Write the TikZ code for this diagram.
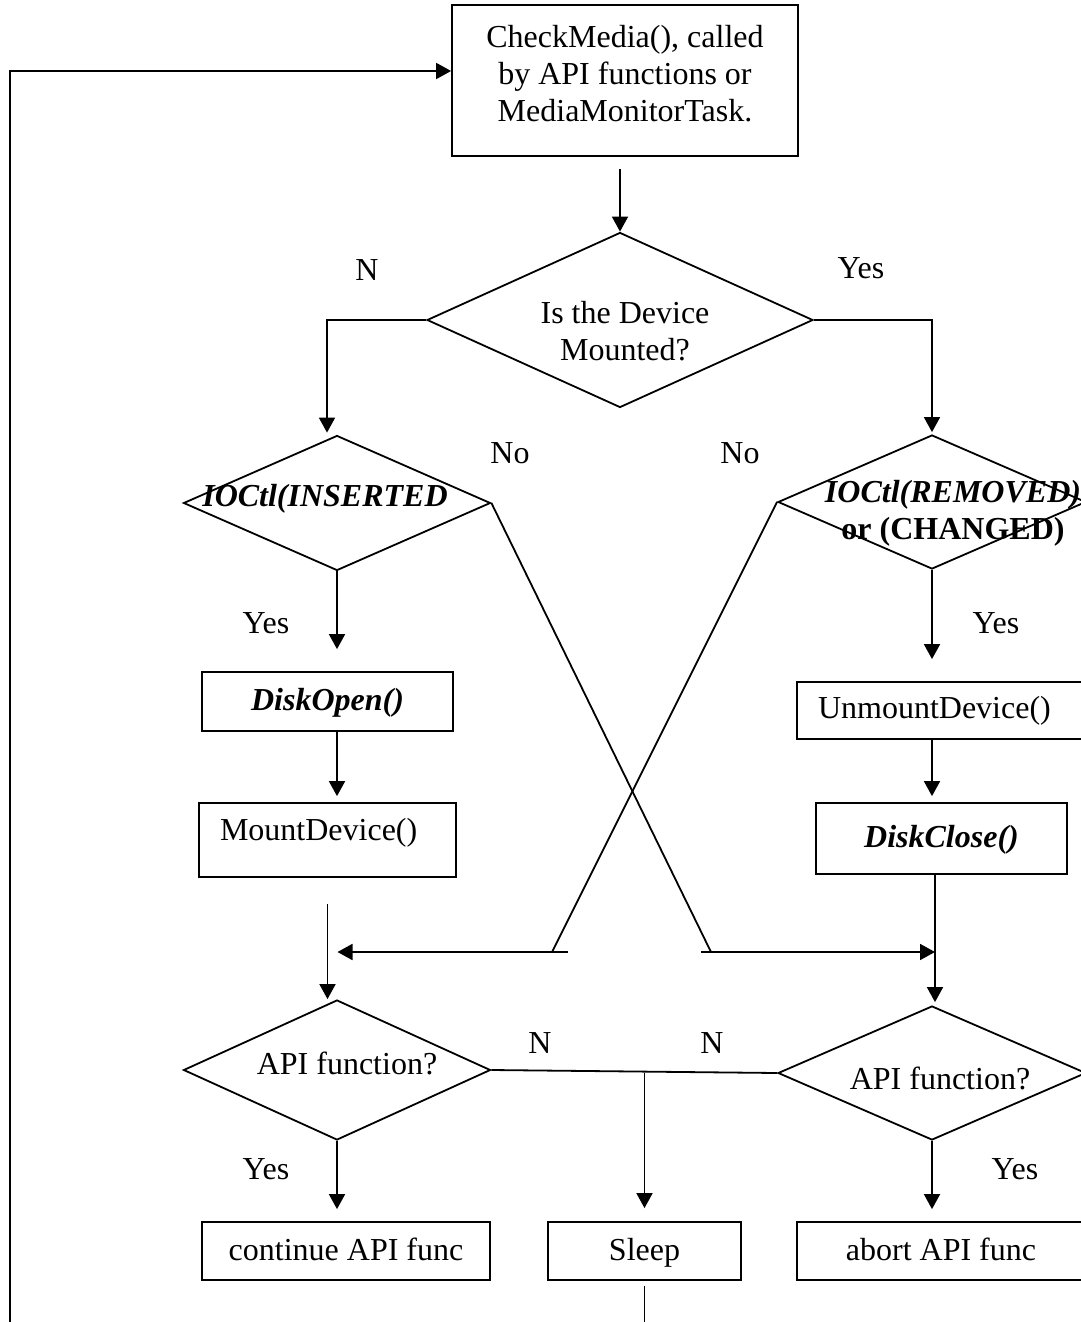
\documentclass[tikz,border=0pt]{standalone}
\usepackage{fontspec}
\setmainfont{Liberation Serif}
\usetikzlibrary{shapes.geometric,arrows.meta}
\begin{document}
\begin{tikzpicture}[x=1pt,y=-1pt,line width=1.8pt,
  every node/.style={font=\fontsize{32}{37}\selectfont},
  bi/.style={font=\fontsize{32}{37}\selectfont\bfseries\itshape},
  box/.style={draw,rectangle,inner sep=0pt,text height=23pt,text depth=5pt},
  dia/.style={draw,diamond,inner sep=0pt},
  txt/.style={align=center,inner sep=0pt},
  arr/.style={-{Triangle[length=15pt,width=16pt]}}]
\useasboundingbox (0,0) rectangle (1080,1322);
% boxes
\node[draw,rectangle,inner sep=0pt,minimum width=346pt,minimum height=151pt] (top) at (625,80.5) {};
\node[txt] (topt) at (625,74) {CheckMedia(), called\\by API functions or\\MediaMonitorTask.};
\node[dia,minimum width=386pt,minimum height=175pt] (d1) at (620,320) {};
\node[txt] (d1t) at (625,331) {Is the Device\\Mounted?};
\node[dia,minimum width=307pt,minimum height=135pt] (ioc1) at (337,503) {};
\node[txt,bi] (ioc1t) at (325,499) {IOCtl(INSERTED};
\node[dia,minimum width=308pt,minimum height=134pt] (ioc2) at (932,502) {};
\node[txt] (ioc2t) at (953,513) {\textbf{\textit{IOCtl(REMOVED)}}\\\textbf{or (CHANGED)}};
\node[box,bi,minimum width=251pt,minimum height=59pt] (open) at (327.5,701.5) {DiskOpen()};
\node[box,text width=215pt,inner xsep=21pt,align=left,minimum height=74pt,text depth=22pt] (mount) at (327.5,840) {MountDevice()};
\node[box,text width=246pt,inner xsep=21pt,align=left,minimum height=57pt,text depth=7pt] (unmount) at (941,710.5) {UnmountDevice()};
\node[box,bi,minimum width=251pt,minimum height=71pt] (close) at (941.5,838.5) {DiskClose()};
\node[dia,minimum width=307pt,minimum height=140pt] (api1) at (337,1070) {};
\node[txt] (api1t) at (347,1063) {API function?};
\node[dia,minimum width=308pt,minimum height=134pt] (api2) at (932,1073) {};
\node[txt] (api2t) at (940,1078) {API function?};
\node[box,minimum width=288pt,minimum height=58pt] (cont) at (346,1251) {continue API func};
\node[box,minimum width=193pt,minimum height=58pt] (sleep) at (644.5,1251) {Sleep};
\node[box,minimum width=288pt,minimum height=58pt] (abort) at (941,1251) {abort API func};
% labels
\node (lN1) at (367,270) {N};
\node (lY1) at (861,268) {Yes};
\node (lNo1) at (510,453) {No};
\node (lNo2) at (740,453) {No};
\node (lY2) at (266,623) {Yes};
\node (lY3) at (996,623) {Yes};
\node (lN2) at (540,1043) {N};
\node (lN3) at (712,1043) {N};
\node (lY4) at (266,1169) {Yes};
\node (lY5) at (1015,1169) {Yes};
% coordinates
\coordinate (loopB) at (10,1322);
\coordinate (xr) at (711,952);
\coordinate (xl) at (552,952);
\coordinate (vr) at (935,952);
\coordinate (sleepend) at (644.5,1322);
% connectors
\draw[arr] (loopB) |- ([yshift=9.5pt]top.west);
\draw[arr,shorten <=12pt] (top.south -| d1.north) -- (d1.north);
\draw[arr,shorten >=2pt] (d1.west) -| ([xshift=-10pt]ioc1.north);
\draw[arr,shorten >=2pt] (d1.east) -| (ioc2.north);
\draw[arr,shorten >=22pt] (ioc1.south) -- (ioc1.south |- open.north);
\draw[arr,shorten >=22pt] (ioc2.south) -- (unmount.north -| ioc2.south);
\draw[arr,shorten >=6pt] (ioc1.south |- open.south) -- (ioc1.south |- mount.north);
\draw[arr,shorten >=6pt] (unmount.south -| ioc2.south) -- (close.north -| ioc2.south);
\draw[arr,shorten <=26pt] (mount.south) -- (mount.south |- api1.north);
\draw (ioc1.east) -- (xr);
\draw (ioc2.west) -- (xl);
\draw[arr] ([xshift=-10pt]xr) -- (vr);
\draw[arr,shorten >=10pt] ([xshift=16pt]xl) -- (mount.south |- xl);
\draw[arr,shorten >=3pt] (vr |- close.south) -- (vr |- api2.north);
\draw (api1.east) -- (api2.west);
\draw[arr,shorten >=13pt] (sleep.north |- api2.west) -- (sleep.north);
\draw[arr,shorten >=12pt] (api1.south) -- (api1.south |- cont.north);
\draw[arr,shorten >=12pt] (api2.south) -- (api2.south |- abort.north);
\draw[shorten <=5pt] (sleep.south) -- (sleepend);
\end{tikzpicture}
\end{document}
